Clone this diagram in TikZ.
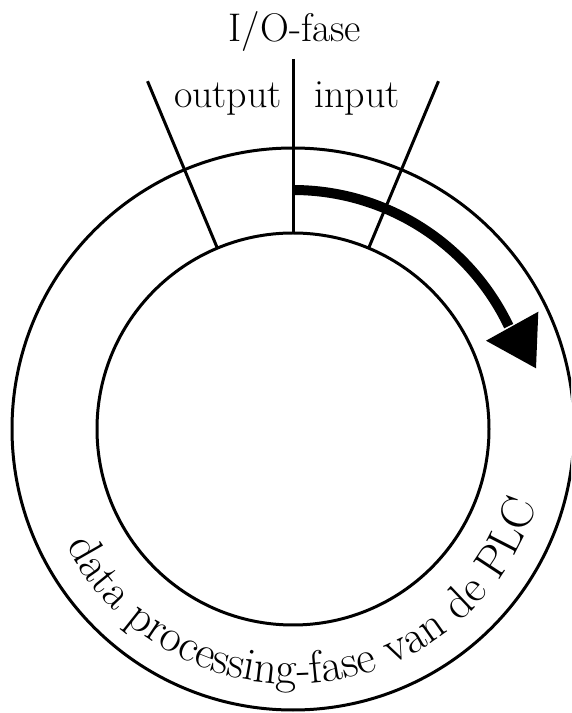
\documentclass[tikz,border=0pt]{standalone}
\usetikzlibrary{decorations.text,calc}
\begin{document}
\begin{tikzpicture}[x=1pt,y=1pt,
  thin line/.style={line width=3pt, line cap=butt},
  label text/.style={font=\fontsize{40}{48}\selectfont, inner sep=0pt, anchor=base}]
\useasboundingbox (0,0) rectangle (571,713);
\clip (0,0) rectangle (571,713);
\coordinate (c) at (293,284);
% circles
\draw[thin line] (c) circle[radius=196];
\draw[thin line] (c) circle[radius=281];
% separator lines
\coordinate (vtop) at ($(c)+(90:370)$);
\coordinate (vbot) at ($(c)+(90:196)$);
\coordinate (ltop) at ($(c)+(112.7:377)$);
\coordinate (lbot) at ($(c)+(112.7:196)$);
\coordinate (rtop) at ($(c)+(67.3:377)$);
\coordinate (rbot) at ($(c)+(67.3:196)$);
\draw[thin line] (vtop) -- (vbot);
\draw[thin line] (ltop) -- (lbot);
\draw[thin line] (rtop) -- (rbot);
% labels
\node[label text] (io) at (295,671.3) {I/O-fase};
\node[label text] (out) at (228,605) {output};
\node[label text] (in) at (357,605) {input};
% thick arrow
\coordinate (astart) at ($(c)+(90:239)$);
\draw[line width=10pt, line cap=butt] (astart) arc[start angle=90, end angle=25.5, radius=239];
\coordinate (t1) at (538.3,401.3);
\coordinate (t2) at (486,372.3);
\coordinate (t3) at (536,344.7);
\fill (t1) -- (t2) -- (t3) -- cycle;
% curved text
\path[decorate, decoration={text along path, text align=center,
  text={|\fontsize{46}{54}\selectfont|data processing-fase van de PLC}}]
  ($(c)+(195:255)$) arc[start angle=195, end angle=355, radius=255];
\end{tikzpicture}
\end{document}
